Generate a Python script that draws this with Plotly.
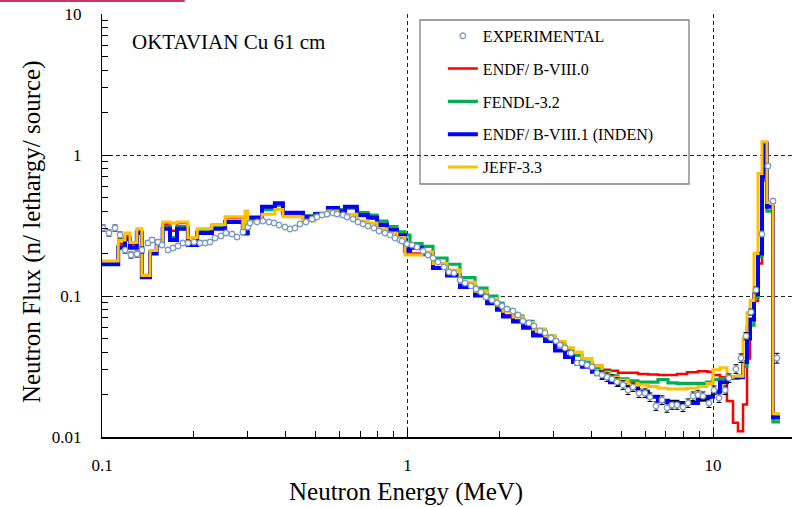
import plotly.graph_objects as go

# ---------------- data ----------------
# group boundaries (MeV) shared by the calculated spectra
energy_edges = [0.100, 0.113, 0.119, 0.1235, 0.130, 0.135, 0.1436, 0.151, 0.158, 0.167,
                0.176, 0.191, 0.205, 0.229, 0.253, 0.289, 0.294, 0.300, 0.334, 0.368,
                0.391, 0.455, 0.498, 0.549, 0.592, 0.624, 0.683, 0.743, 0.795, 0.857,
                0.924, 0.981, 1.019, 1.116, 1.212, 1.347, 1.485, 1.663, 1.821, 1.963,
                2.054, 2.215, 2.389, 2.576, 2.819, 3.040, 3.278, 3.481, 3.725, 4.017,
                4.332, 4.601, 4.887, 5.270, 5.682, 6.127, 6.607, 7.124, 7.623, 8.221,
                8.929, 9.558, 10.0, 10.54, 11.11, 11.63, 12.07, 12.54, 12.92, 13.22,
                13.62, 14.04, 14.47, 14.80, 15.02, 15.72, 16.57]

flux_endf80 = [0.172, 0.235, 0.265, 0.23, 0.29, 0.138, 0.205, 0.235, 0.325, 0.29,
               0.33, 0.245, 0.295, 0.32, 0.36, 0.29, 0.29, 0.36, 0.42, 0.44,
               0.38, 0.36, 0.38, 0.42, 0.40, 0.42, 0.37, 0.355, 0.315, 0.29,
               0.265, 0.205, 0.20, 0.195, 0.16, 0.142, 0.118, 0.102, 0.090, 0.081,
               0.073, 0.067, 0.061, 0.054, 0.049, 0.045, 0.041, 0.038, 0.0335, 0.032,
               0.030, 0.0295, 0.0285, 0.0285, 0.028, 0.0278, 0.0275, 0.0275, 0.028, 0.0288,
               0.0293, 0.0290, 0.0275, 0.0265, 0.018, 0.0126, 0.011, 0.017, 0.036, 0.068,
               0.092, 0.17, 0.66, 1.18, 0.43, 0.0136]

flux_fendl32 = [0.17, 0.225, 0.255, 0.225, 0.285, 0.14, 0.205, 0.235, 0.31, 0.26,
                0.31, 0.24, 0.29, 0.31, 0.34, 0.275, 0.275, 0.35, 0.41, 0.44,
                0.39, 0.37, 0.385, 0.41, 0.41, 0.42, 0.39, 0.375, 0.34, 0.31,
                0.285, 0.27, 0.235, 0.225, 0.186, 0.168, 0.135, 0.114, 0.100, 0.089,
                0.080, 0.072, 0.066, 0.058, 0.052, 0.046, 0.042, 0.038, 0.034, 0.031,
                0.029, 0.0272, 0.0258, 0.0250, 0.0245, 0.0245, 0.0255, 0.0242, 0.0240, 0.0240,
                0.0240, 0.0245, 0.0255, 0.026, 0.026, 0.026, 0.027, 0.0315, 0.060, 0.062,
                0.098, 0.19, 0.68, 1.18, 0.40, 0.0128]

flux_endf81 = [0.168, 0.22, 0.253, 0.22, 0.28, 0.136, 0.20, 0.23, 0.30, 0.25,
               0.30, 0.23, 0.28, 0.30, 0.335, 0.28, 0.28, 0.36, 0.43, 0.455,
               0.39, 0.365, 0.38, 0.42, 0.40, 0.43, 0.375, 0.36, 0.32, 0.294,
               0.27, 0.21, 0.22, 0.20, 0.158, 0.14, 0.116, 0.101, 0.089, 0.080,
               0.0715, 0.066, 0.0595, 0.0525, 0.048, 0.041, 0.037, 0.034, 0.0315, 0.029,
               0.0266, 0.0245, 0.0234, 0.0222, 0.0209, 0.0193, 0.0181, 0.0178, 0.0174, 0.0174,
               0.0184, 0.0193, 0.0210, 0.0245, 0.0265, 0.0265, 0.0265, 0.034, 0.050, 0.068,
               0.103, 0.20, 0.70, 1.20, 0.43, 0.0138]

flux_jeff33 = [0.177, 0.25, 0.28, 0.24, 0.30, 0.14, 0.21, 0.24, 0.335, 0.33,
               0.335, 0.26, 0.30, 0.32, 0.365, 0.30, 0.40, 0.335, 0.38, 0.41,
               0.365, 0.34, 0.37, 0.40, 0.37, 0.38, 0.34, 0.33, 0.30, 0.28,
               0.26, 0.195, 0.195, 0.205, 0.17, 0.153, 0.125, 0.108, 0.096, 0.086,
               0.078, 0.071, 0.065, 0.058, 0.052, 0.0475, 0.043, 0.040, 0.036, 0.032,
               0.0285, 0.0265, 0.0253, 0.0240, 0.0234, 0.0228, 0.0222, 0.0219, 0.0219, 0.0222,
               0.0228, 0.0240, 0.030, 0.031, 0.0265, 0.027, 0.027, 0.050, 0.076, 0.093,
               0.20, 0.74, 1.24, 1.24, 0.46, 0.0146]

exp_energy = [0.1008, 0.1054, 0.1103, 0.1146, 0.1190, 0.1244, 0.1302, 0.1352, 0.1414, 0.1458,
              0.1525, 0.1572, 0.1644, 0.1708, 0.1773, 0.1841, 0.1912, 0.2000, 0.2093, 0.2174,
              0.2257, 0.2344, 0.2452, 0.2546, 0.2664, 0.2766, 0.2893, 0.3005,
              0.3050, 0.3217, 0.3365, 0.3521, 0.3656, 0.3797, 0.3972, 0.4125, 0.4283, 0.4447,
              0.4653, 0.4868, 0.5055, 0.5249, 0.5450, 0.5703, 0.5878, 0.6150, 0.6338, 0.6632,
              0.6887, 0.7152, 0.7426, 0.7770, 0.8069, 0.8440, 0.8765, 0.9101, 0.9450,
              0.9594, 0.9962, 1.0345, 1.0742, 1.1240, 1.1671, 1.2120, 1.2585, 1.3166, 1.3672,
              1.4197, 1.4853, 1.5424, 1.6137, 1.6757, 1.7400, 1.8068, 1.8904, 1.9634, 2.0388,
              2.1169, 2.2148, 2.2998, 2.3881, 2.4984, 2.5944, 2.7145, 2.8185, 2.9490, 3.0630,
              3.1568, 3.2780, 3.4296, 3.5883, 3.7260, 3.8688, 4.0173, 4.1716, 4.3320, 4.4983,
              4.6706, 4.8502, 5.0746, 5.2700, 5.4725, 5.7256, 5.9906, 6.2204, 6.5083, 6.8092,
              7.0711, 7.3421, 7.6234, 7.9760, 8.2822, 8.6004, 8.9294, 9.2720, 9.7031, 10.076,
              10.463, 10.946, 11.281, 11.893, 12.350, 12.825, 13.316, 13.826, 14.465, 15.135,
              15.716, 16.197]

exp_flux = [0.3035, 0.2798, 0.3035, 0.2709, 0.2120, 0.1953, 0.1986, 0.2120, 0.2376, 0.2495,
            0.2415, 0.2300, 0.2120, 0.2190, 0.2262, 0.2376, 0.2376, 0.2415, 0.2376, 0.2376,
            0.2415, 0.2577, 0.2663, 0.2798, 0.2753, 0.2621, 0.2844, 0.3085,
            0.3294, 0.3348, 0.3403, 0.3348, 0.3294, 0.3188, 0.3085, 0.2986, 0.3035, 0.3241,
            0.3348, 0.3516, 0.3633, 0.3753, 0.3815, 0.3878, 0.3815, 0.3753, 0.3633, 0.3516,
            0.3348, 0.3241, 0.3136, 0.3035, 0.2891, 0.2798, 0.2709, 0.2577, 0.2495,
            0.2455, 0.2338, 0.2300, 0.2226, 0.2085, 0.1953, 0.1860, 0.1742, 0.1606, 0.1480,
            0.1456, 0.1299, 0.1237, 0.1178, 0.1121, 0.1067, 0.0984, 0.0937, 0.0892, 0.0849,
            0.0809, 0.0783, 0.0733, 0.0665, 0.0644, 0.0613, 0.0565, 0.0547, 0.0504, 0.0480,
            0.0449, 0.0428, 0.0394, 0.0335, 0.0335, 0.0324, 0.0314, 0.0284, 0.0275, 0.0266,
            0.0258, 0.0246, 0.0234, 0.0215, 0.0226, 0.0205, 0.0205, 0.0192, 0.0166, 0.0183,
            0.0161, 0.0169, 0.0169, 0.0163, 0.0174, 0.0195, 0.0199, 0.0195, 0.0174, 0.0215,
            0.0189, 0.0215, 0.0262, 0.0304, 0.0363, 0.0520, 0.0770, 0.1103, 0.2753, 0.8356,
            0.4718, 0.0363]

exp_err_pct = [5, 5, 5, 5, 5, 5, 5, 5, 4, 4,
               4, 3, 3, 3, 3, 3, 3, 3, 3, 3,
               3, 3, 3, 3, 3, 3, 3, 3,
               2, 2, 2, 2, 2, 2, 2, 2, 2, 2,
               2, 2, 2, 2, 2, 2, 2, 2, 2, 2,
               2, 2, 2, 2, 2, 2, 2, 2, 2,
               2, 2, 2, 2, 2, 2, 2, 2, 2, 2,
               2, 2, 2, 2, 2, 3, 3, 3, 3, 3,
               3, 3, 3, 3, 3, 3, 3, 3, 3, 3,
               4, 4, 4, 4, 4, 4, 4, 4, 7, 7,
               7, 7, 7, 7, 7, 7, 7, 7, 7, 7,
               7, 7, 7, 7, 7, 7, 7, 7, 7, 7,
               7, 7, 7, 7, 7, 6, 5, 5, 3, 3,
               3, 8]

x_tick_vals = [0.1, 1, 10]
x_tick_text = ["0.1", "1", "10"]
y_tick_vals = [0.01, 0.1, 1, 10]
y_tick_text = ["0.01", "0.1", "1", "10"]

SERIF = "Liberation Serif, Times New Roman, serif"

fig = go.Figure()

series = [
    ("ENDF/ B-VIII.0", flux_endf80, "#FF0000", 2.5, 2),
    ("FENDL-3.2", flux_fendl32, "#00B050", 3.2, 3),
    ("ENDF/ B-VIII.1 (INDEN)", flux_endf81, "#0000FF", 4.0, 4),
    ("JEFF-3.3", flux_jeff33, "#FFC000", 3.0, 5),
]
for name, vals, color, width, rank in series:
    fig.add_trace(go.Scatter(
        x=energy_edges, y=vals + [vals[-1]], mode="lines", name=name,
        line=dict(color=color, width=width, shape="hv"),
        legendgroup=name, legendrank=rank))

err_abs = [f * p / 100.0 for f, p in zip(exp_flux, exp_err_pct)]
fig.add_trace(go.Scatter(
    x=exp_energy, y=exp_flux, mode="markers", name="EXPERIMENTAL",
    marker=dict(symbol="circle", size=5.5, color="white",
                line=dict(color="#7F9BC8", width=1.3)),
    error_y=dict(type="data", array=err_abs, visible=True, color="black",
                 thickness=1, width=2.5),
    legendgroup="exp", legendrank=1))

grid_common = dict(showgrid=True, gridcolor="#222222", gridwidth=1, griddash="4px,3px",
                   showline=True, linecolor="black", zeroline=False,
                   ticks="inside", ticklen=9, tickcolor="black", tickwidth=1,
                   tickfont=dict(family=SERIF, size=17, color="black"))

fig.update_xaxes(type="log", range=[-1, 1.2586], tickmode="array",
                 tickvals=x_tick_vals, ticktext=x_tick_text, linewidth=1.6,
                 ticklabelstandoff=12,
                 minor=dict(ticks="inside", ticklen=6, tickcolor="black", dtick="D1",
                            showgrid=False),
                 **grid_common)
fig.update_yaxes(type="log", range=[-2, 1], tickmode="array",
                 tickvals=y_tick_vals, ticktext=y_tick_text, linewidth=1,
                 ticklabelstandoff=16,
                 minor=dict(ticks="inside", ticklen=6, tickcolor="black", dtick="D1",
                            showgrid=False),
                 **grid_common)

fig.update_layout(
    width=792, height=507, autosize=False,
    margin=dict(l=102, r=0, t=14, b=70),
    paper_bgcolor="white", plot_bgcolor="white",
    font=dict(family=SERIF, color="black"),
    legend=dict(x=0.494, y=0.9885, xanchor="left", yanchor="top",
                bgcolor="rgba(0,0,0,0)", borderwidth=0,
                font=dict(family=SERIF, size=16, color="black"),
                traceorder="grouped", tracegroupgap=9, itemwidth=30),
    shapes=[
        dict(type="rect", xref="paper", yref="paper", x0=0.4609, x1=0.8507,
             y0=0.5981, y1=0.9858, line=dict(color="#808080", width=1.3),
             fillcolor="white", layer="between"),
        dict(type="line", xref="paper", yref="paper", x0=-0.148, x1=0.120,
             y0=1.031, y1=1.031, line=dict(color="#C8336A", width=2)),
    ],
    annotations=[
        dict(text="OKTAVIAN Cu 61 cm", xref="paper", yref="paper", x=0.0406, y=0.9338,
             xanchor="left", yanchor="middle", showarrow=False,
             font=dict(family=SERIF, size=21, color="black")),
        dict(text="Neutron Energy (MeV)", xref="paper", yref="paper", x=0.4406, y=-0.130,
             xanchor="center", yanchor="middle", showarrow=False,
             font=dict(family=SERIF, size=25, color="black")),
        dict(text="Neutron Flux (n/ lethargy/ source)", xref="paper", yref="paper",
             x=-0.1014, y=0.4846, xanchor="center", yanchor="middle", textangle=-90,
             showarrow=False, font=dict(family=SERIF, size=25, color="black")),
    ],
)

fig.write_html("out.html", config={"displayModeBar": False},
               post_script="document.body.style.margin='0px';document.body.style.overflow='hidden';")
